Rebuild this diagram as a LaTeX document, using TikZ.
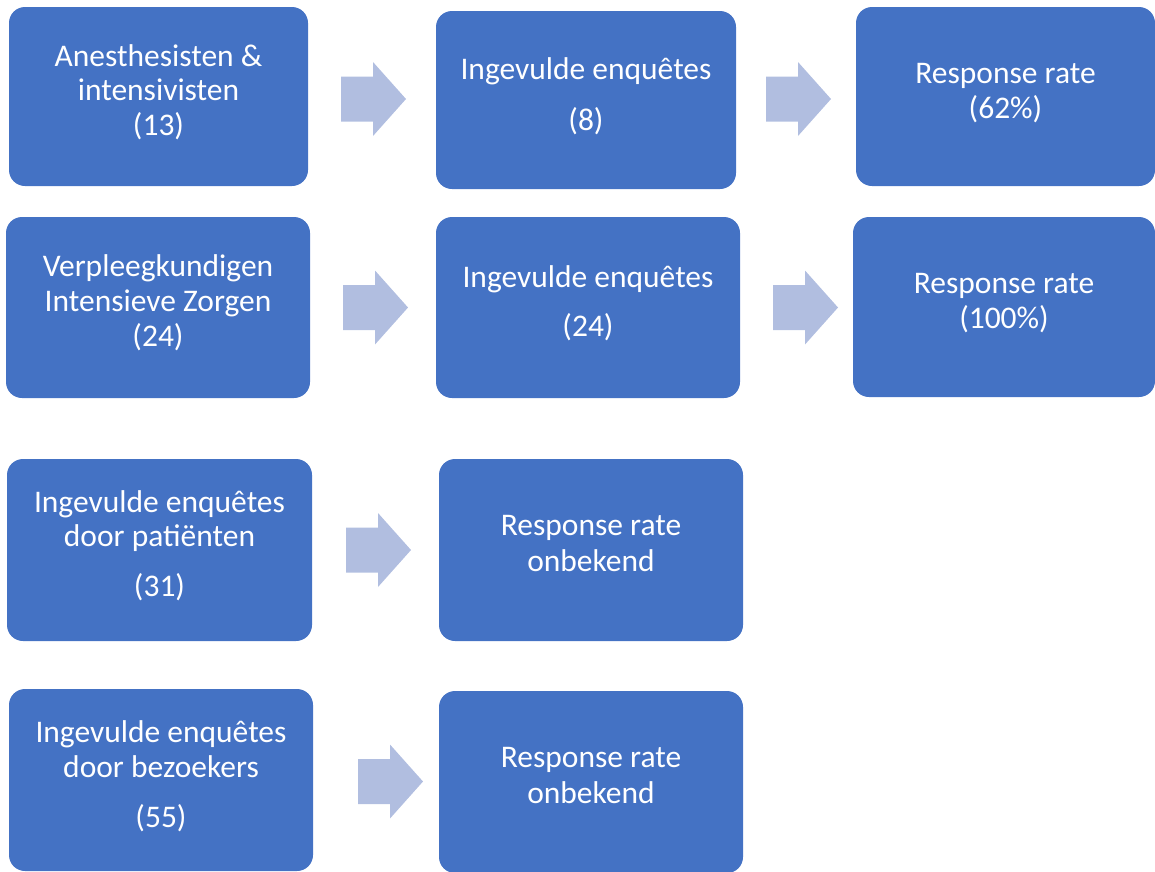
\documentclass[tikz,border=0pt]{standalone}
\usepackage{fontspec}
\setmainfont{Carlito}
\definecolor{boxblue}{HTML}{4472C4}
\definecolor{arrowblue}{HTML}{B1BEE0}
\begin{document}
\begin{tikzpicture}[x=1pt,y=-1pt,
  box/.style={fill=boxblue, draw=none, rounded corners=16pt, inner sep=0pt, minimum width=#1},
  box/.default=300pt,
  txt/.style={anchor=base, text=white, inner sep=0pt, font=\fontsize{31.5}{34}\selectfont},
  barrow/.pic={\fill[arrowblue] (0,-22.5) -- (32,-22.5) -- (32,-37) -- (65,0) -- (32,37) -- (32,22.5) -- (0,22.5) -- cycle;}
]
\useasboundingbox (0,0) rectangle (1155,871);

% row 1
\node[box=299pt, minimum height=179pt] (a1) at (158.5,96.5) {};
\node[box=300pt, minimum height=178pt] (a2) at (586,100) {};
\node[box=299pt, minimum height=179pt] (a3) at (1005.5,96.5) {};
\node[txt] (a1t1) at (158.5,66) {Anesthesisten \&};
\node[txt] (a1t2) at (158.5,100) {intensivisten};
\node[txt] (a1t3) at (158.5,135) {(13)};
\node[txt] (a2t1) at (586,79) {Ingevulde enquêtes};
\node[txt] (a2t2) at (586,130) {(8)};
\node[txt] (a3t1) at (1005.5,83) {Response rate};
\node[txt] (a3t2) at (1005.5,118) {(62\%)};
\pic (r1a) at (341,99) {barrow};
\pic (r1b) at (766,99) {barrow};

% row 2
\node[box=304pt, minimum height=181pt] (b1) at (158,307.5) {};
\node[box=304pt, minimum height=181pt] (b2) at (588,307.5) {};
\node[box=302pt, minimum height=180pt] (b3) at (1004,307) {};
\node[txt] (b1t1) at (158,276) {Verpleegkundigen};
\node[txt] (b1t2) at (158,311) {Intensieve Zorgen};
\node[txt] (b1t3) at (158,346.5) {(24)};
\node[txt] (b2t1) at (588,287) {Ingevulde enquêtes};
\node[txt] (b2t2) at (588,336) {(24)};
\node[txt] (b3t1) at (1004,293) {Response rate};
\node[txt] (b3t2) at (1004,328) {(100\%)};
\pic (r2a) at (343,307.5) {barrow};
\pic (r2b) at (773,307.5) {barrow};

% row 3
\node[box=305pt, minimum height=182pt] (c1) at (159.5,550) {};
\node[box=304pt, minimum height=182pt] (c2) at (591,550) {};
\node[txt] (c1t1) at (159.5,512) {Ingevulde enquêtes};
\node[txt] (c1t2) at (159.5,546) {door patiënten};
\node[txt] (c1t3) at (159.5,596.5) {(31)};
\node[txt] (c2t1) at (591,535) {Response rate};
\node[txt] (c2t2) at (591,571) {onbekend};
\pic (r3) at (346,550) {barrow};

% row 4
\node[box=304pt, minimum height=182pt] (d1) at (161,780) {};
\node[box=304pt, minimum height=182pt] (d2) at (591,782) {};
\node[txt] (d1t1) at (161,742) {Ingevulde enquêtes};
\node[txt] (d1t2) at (161,777) {door bezoekers};
\node[txt] (d1t3) at (161,827) {(55)};
\node[txt] (d2t1) at (591,767) {Response rate};
\node[txt] (d2t2) at (591,803) {onbekend};
\pic (r4) at (358,781.5) {barrow};
\end{tikzpicture}
\end{document}
